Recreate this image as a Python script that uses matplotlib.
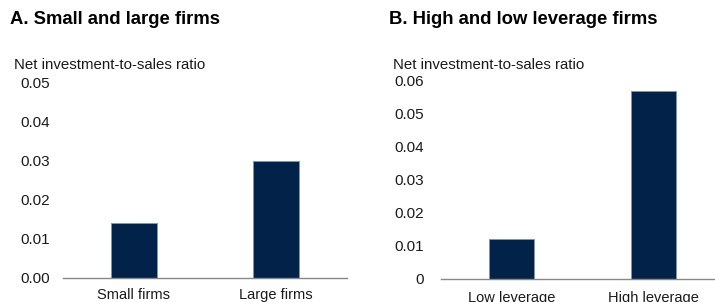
import matplotlib
matplotlib.use('Agg')
import matplotlib.pyplot as plt

plt.rcParams['font.family'] = ['Liberation Sans', 'DejaVu Sans']

# ---- data ----
size_cats = ['Small firms', 'Large firms']
size_vals = [0.014, 0.030]
size_ticks = [0.00, 0.01, 0.02, 0.03, 0.04, 0.05]
size_ticklabels = ['0.00', '0.01', '0.02', '0.03', '0.04', '0.05']

lev_cats = ['Low leverage', 'High leverage']
lev_vals = [0.012, 0.057]
lev_ticks = [0, 0.01, 0.02, 0.03, 0.04, 0.05, 0.06]
lev_ticklabels = ['0', '0.01', '0.02', '0.03', '0.04', '0.05', '0.06']

bar_color = '#03224a'
edge_color = '#8196ad'

fig = plt.figure(figsize=(7.15, 3.02), dpi=100)

def panel(rect, cats, vals, ticks, ticklabels, ypad, xpad):
    ax = fig.add_axes(rect)
    ax.bar(range(len(cats)), vals, width=0.32, color=bar_color,
           edgecolor=edge_color, linewidth=0.7)
    ax.set_xlim(-0.5, 1.5)
    ax.set_ylim(ticks[0], ticks[-1])
    ax.set_yticks(ticks)
    ax.set_yticklabels(ticklabels)
    ax.set_xticks(range(len(cats)))
    ax.set_xticklabels(cats)
    for s in ['top', 'right', 'left']:
        ax.spines[s].set_visible(False)
    ax.spines['bottom'].set_color('#888888')
    ax.spines['bottom'].set_linewidth(1.0)
    ax.tick_params(axis='y', length=0, pad=ypad, labelsize=11, labelcolor='#1a1a1a')
    ax.tick_params(axis='x', length=0, pad=xpad, labelsize=10.5, labelcolor='#1a1a1a')
    ax.patch.set_alpha(0)
    return ax

ax1 = panel([0.0881, 0.0795, 0.397, 0.646], size_cats, size_vals,
            size_ticks, size_ticklabels, 9.5, 7.5)
ax2 = panel([0.6168, 0.0762, 0.396, 0.656], lev_cats, lev_vals,
            lev_ticks, lev_ticklabels, 12, 8.5)

fig.text(10 / 715, 1 - 20 / 302, 'A. Small and large firms', fontsize=13.3,
         fontweight='bold', va='center', ha='left')
fig.text(389 / 715, 1 - 20 / 302, 'B. High and low leverage firms', fontsize=13.3,
         fontweight='bold', va='center', ha='left')
fig.text(14 / 715, 1 - 65 / 302, 'Net investment-to-sales ratio', fontsize=10.8,
         va='center', ha='left', color='#1a1a1a')
fig.text(393 / 715, 1 - 65 / 302, 'Net investment-to-sales ratio', fontsize=10.8,
         va='center', ha='left', color='#1a1a1a')

fig.savefig('out.png', dpi=100)
